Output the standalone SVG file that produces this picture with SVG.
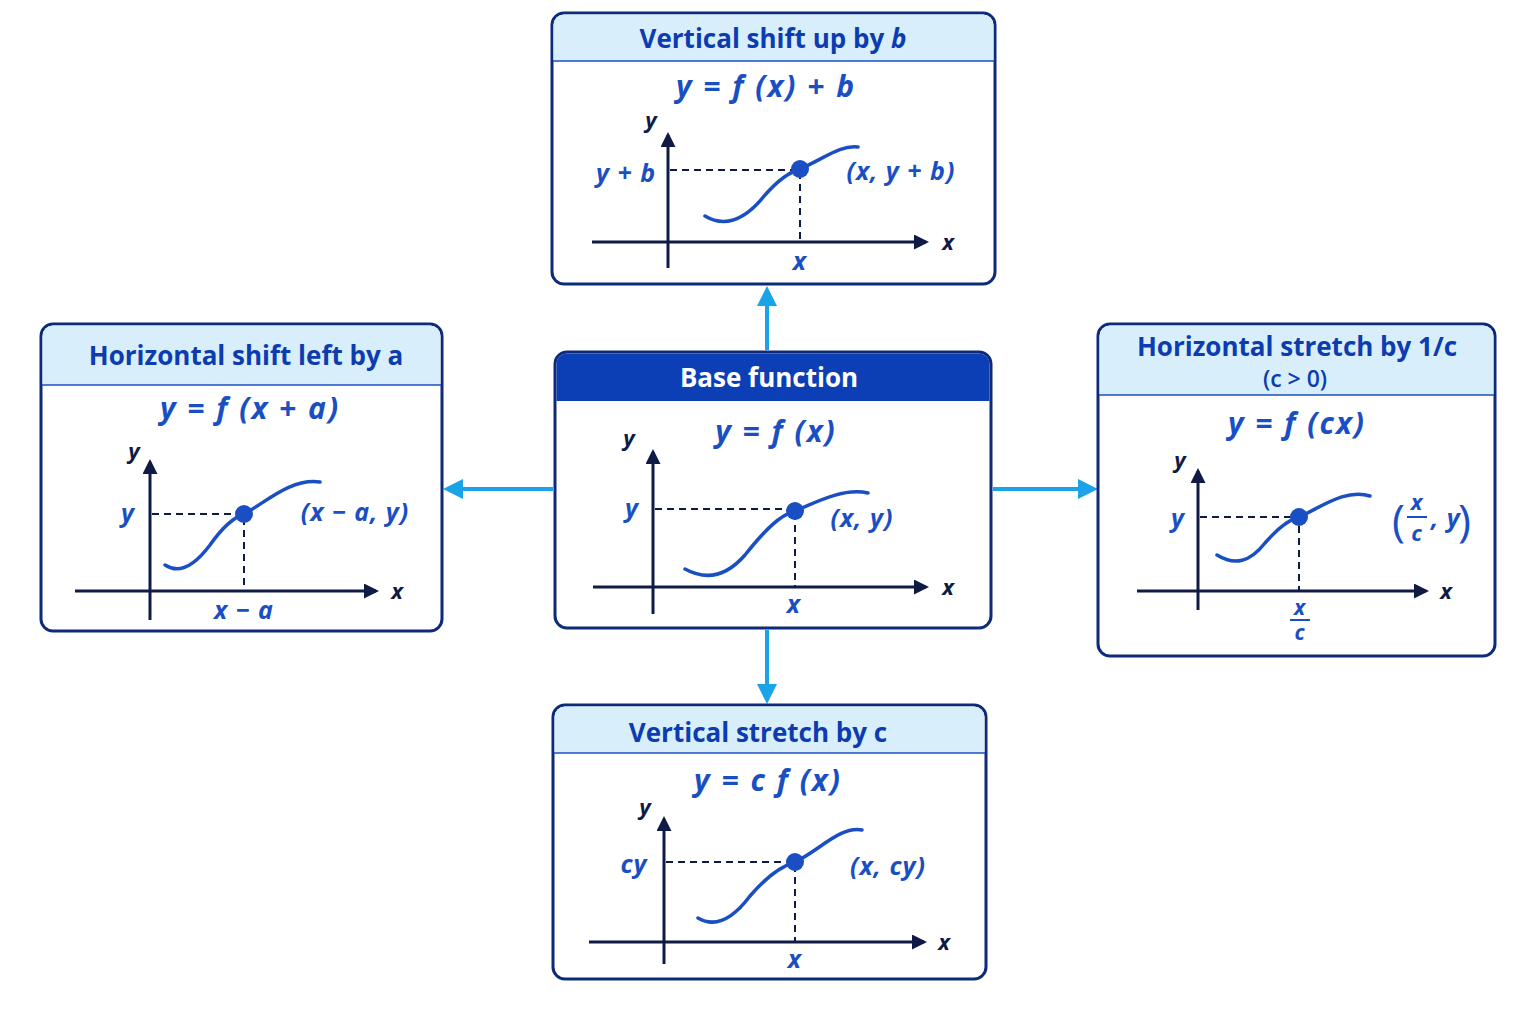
<svg xmlns="http://www.w3.org/2000/svg" width="1536" height="1024" viewBox="0 0 1536 1024">
<style>
.box{fill:#fff;stroke:#0e2a7a;stroke-width:3}
.hd{fill:#d8effb}
.hl{stroke:#1a4fc4;stroke-width:1.5}
.tt{font-family:"Open Sans",sans-serif;font-weight:700;font-size:26px;fill:#0c3cb0;text-anchor:middle}
.eq{font-family:"Open Sans",sans-serif;font-weight:700;font-style:italic;font-size:30px;letter-spacing:2px;fill:#1a4fc4;text-anchor:middle}
.lb{font-family:"Open Sans",sans-serif;font-weight:700;font-style:italic;font-size:25px;letter-spacing:1px;fill:#1a4fc4;text-anchor:middle}
.ax{font-family:"Open Sans",sans-serif;font-weight:700;font-style:italic;font-size:22px;fill:#0f1b45;text-anchor:middle}
.axis{stroke:#0f1b45;stroke-width:3;fill:none}
.dash{stroke:#0f1b45;stroke-width:2;stroke-dasharray:7 5;fill:none}
.cv{stroke:#1a4fc4;stroke-width:3.5;fill:none;stroke-linecap:round}
.pt{fill:#1a4fc4}
.con{stroke:#1aa3e8;stroke-width:4;fill:none}
</style>
<defs>
<marker id="ah" viewBox="0 0 10 10" refX="8" refY="5" markerWidth="5" markerHeight="5" orient="auto"><path d="M0,0 L10,5 L0,10 z" fill="#0f1b45"/></marker>
<marker id="ca" viewBox="0 0 10 10" refX="8" refY="5" markerWidth="5" markerHeight="5" orient="auto"><path d="M0,0 L10,5 L0,10 z" fill="#1aa3e8"/></marker>
</defs>
<rect width="1536" height="1024" fill="#fff"/>
<g id="connectors">
<line class="con" x1="767" y1="350" x2="767" y2="290" marker-end="url(#ca)"/>
<line class="con" x1="553" y1="489" x2="447" y2="489" marker-end="url(#ca)"/>
<line class="con" x1="993" y1="489" x2="1094" y2="489" marker-end="url(#ca)"/>
<line class="con" x1="767" y1="630" x2="767" y2="700" marker-end="url(#ca)"/>
</g>
<g id="top">
<rect class="box" x="552" y="13" width="443" height="271" rx="12"/>
<path class="hd" d="M564,14.5 H983 A10.5,10.5 0 0 1 993.5,25 V61 H553.5 V25 A10.5,10.5 0 0 1 564,14.5 z"/>
<line class="hl" x1="553" y1="61" x2="994" y2="61"/>
<text class="tt" x="773" y="48">Vertical shift up by <tspan font-style="italic">b</tspan></text>
<text class="eq" x="766" y="97">y = f (x) + b</text>
<line class="axis" x1="668" y1="268" x2="668" y2="135" marker-end="url(#ah)"/>
<line class="axis" x1="592" y1="242" x2="926" y2="242" marker-end="url(#ah)"/>
<path class="dash" d="M670,170 H800 V242"/>
<path class="cv" d="M705,216 C725,228 745,220 765,195 C780,178 790,172 800,169 C825,158 840,145 858,147"/>
<circle class="pt" cx="800" cy="169" r="9"/>
<text class="ax" x="651" y="128">y</text>
<text class="ax" x="948" y="250">x</text>
<text class="lb" x="626" y="182">y + b</text>
<text class="lb" x="800" y="270">x</text>
<text class="lb" x="901" y="180">(x, y + b)</text>
</g>
<g id="left">
<rect class="box" x="41" y="324" width="401" height="307" rx="12"/>
<path class="hd" d="M53,325.5 H430 A10.5,10.5 0 0 1 440.5,336 V385 H42.5 V336 A10.5,10.5 0 0 1 53,325.5 z"/>
<line class="hl" x1="42" y1="385" x2="441" y2="385"/>
<text class="tt" x="246" y="365">Horizontal shift left by a</text>
<text class="eq" x="250" y="419">y = f (x + a)</text>
<line class="axis" x1="150" y1="620" x2="150" y2="462" marker-end="url(#ah)"/>
<line class="axis" x1="75" y1="591" x2="376" y2="591" marker-end="url(#ah)"/>
<path class="dash" d="M152,514 H244 V591"/>
<path class="cv" d="M165,565 C180,575 195,565 210,545 C222,528 232,518 244,514 C265,503 290,478 320,482"/>
<circle class="pt" cx="244" cy="514" r="9"/>
<text class="ax" x="134" y="459">y</text>
<text class="ax" x="397" y="599">x</text>
<text class="lb" x="128" y="522">y</text>
<text class="lb" x="244" y="619">x − a</text>
<text class="lb" x="355" y="521">(x − a, y)</text>
</g>
<g id="center">
<rect class="box" x="555" y="352" width="436" height="276" rx="12"/>
<path class="hd" style="fill:#0c3fb5" d="M567,353.5 H979 A10.5,10.5 0 0 1 989.5,364 V401 H556.5 V364 A10.5,10.5 0 0 1 567,353.5 z"/>
<text class="tt" style="fill:#fff" x="769" y="387">Base function</text>
<text class="eq" x="776" y="442">y = f (x)</text>
<line class="axis" x1="653" y1="614" x2="653" y2="452" marker-end="url(#ah)"/>
<line class="axis" x1="593" y1="587" x2="926" y2="587" marker-end="url(#ah)"/>
<path class="dash" d="M655,509 H795 V587"/>
<path class="cv" d="M685,569 C705,580 725,578 745,555 C765,530 780,515 795,511 C820,500 845,488 868,493"/>
<circle class="pt" cx="795" cy="511" r="9"/>
<text class="ax" x="629" y="446">y</text>
<text class="ax" x="948" y="595">x</text>
<text class="lb" x="632" y="517">y</text>
<text class="lb" x="794" y="613">x</text>
<text class="lb" x="862" y="527">(x, y)</text>
</g>
<g id="right">
<rect class="box" x="1098" y="324" width="397" height="332" rx="12"/>
<path class="hd" d="M1110,325.5 H1483 A10.5,10.5 0 0 1 1493.5,336 V395 H1099.5 V336 A10.5,10.5 0 0 1 1110,325.5 z"/>
<line class="hl" x1="1099" y1="395" x2="1494" y2="395"/>
<text class="tt" x="1297" y="356">Horizontal stretch by 1/c</text>
<text class="tt" style="font-size:23px;font-weight:600" x="1295" y="387">(c &gt; 0)</text>
<text class="eq" x="1297" y="434">y = f (cx)</text>
<line class="axis" x1="1198" y1="610" x2="1198" y2="471" marker-end="url(#ah)"/>
<line class="axis" x1="1137" y1="591" x2="1426" y2="591" marker-end="url(#ah)"/>
<path class="dash" d="M1200,517 H1299 V591"/>
<path class="cv" d="M1217,555 C1235,566 1250,562 1265,543 C1278,528 1288,520 1299,517 C1320,508 1345,488 1370,496"/>
<circle class="pt" cx="1299" cy="517" r="9"/>
<text class="ax" x="1180" y="468">y</text>
<text class="ax" x="1446" y="599">x</text>
<text class="lb" x="1178" y="527">y</text>
<text class="lb" style="font-size:21px" x="1300" y="615">x</text>
<line class="hl" style="stroke-width:2" x1="1290" y1="620" x2="1310" y2="620"/>
<text class="lb" style="font-size:21px" x="1300" y="640">c</text>
<text class="lb" style="font-style:normal;font-weight:400;font-size:44px" x="1399" y="536">(</text>
<text class="lb" style="font-size:22px" x="1417" y="510">x</text>
<line class="hl" style="stroke-width:2" x1="1407" y1="517" x2="1427" y2="517"/>
<text class="lb" style="font-size:22px" x="1417" y="541">c</text>
<text class="lb" x="1446" y="527">, y</text>
<text class="lb" style="font-style:normal;font-weight:400;font-size:44px" x="1465" y="536">)</text>
</g>
<g id="bottom">
<rect class="box" x="553" y="705" width="433" height="274" rx="12"/>
<path class="hd" d="M565,706.5 H974 A10.5,10.5 0 0 1 984.5,717 V753 H554.5 V717 A10.5,10.5 0 0 1 565,706.5 z"/>
<line class="hl" x1="554" y1="753" x2="985" y2="753"/>
<text class="tt" x="758" y="742">Vertical stretch by c</text>
<text class="eq" x="768" y="791">y = c f (x)</text>
<line class="axis" x1="664" y1="964" x2="664" y2="819" marker-end="url(#ah)"/>
<line class="axis" x1="589" y1="942" x2="924" y2="942" marker-end="url(#ah)"/>
<path class="dash" d="M666,862 H795 V942"/>
<path class="cv" d="M698,918 C715,928 732,920 750,896 C768,875 782,866 795,862 C820,850 840,826 862,830"/>
<circle class="pt" cx="795" cy="862" r="9"/>
<text class="ax" x="645" y="815">y</text>
<text class="ax" x="944" y="950">x</text>
<text class="lb" x="634" y="873">cy</text>
<text class="lb" x="795" y="968">x</text>
<text class="lb" x="888" y="875">(x, cy)</text>
</g>
</svg>
